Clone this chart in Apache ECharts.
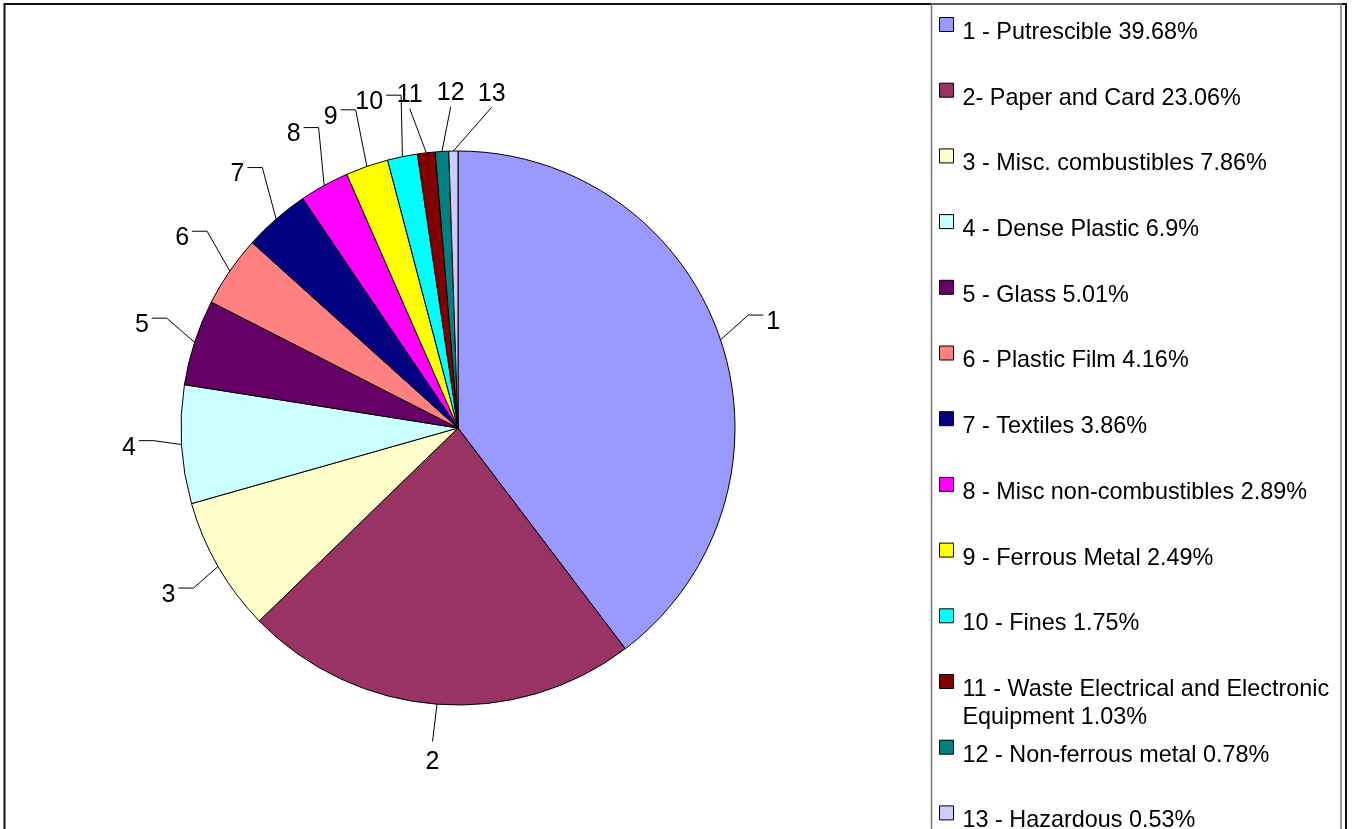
<!DOCTYPE html>
<html><head><meta charset="utf-8">
<script src="https://cdn.jsdelivr.net/npm/echarts@6/dist/echarts.min.js"></script>
<style>html,body{margin:0;padding:0;background:#fff}#c{width:1352px;height:829px}</style>
</head><body><div id="c"></div>
<script>
const categories = ['1 - Putrescible', '2- Paper and Card', '3 - Misc. combustibles', '4 - Dense Plastic', '5 - Glass', '6 - Plastic Film', '7 - Textiles', '8 - Misc non-combustibles', '9 - Ferrous Metal', '10 - Fines', '11 - Waste Electrical and Electronic Equipment', '12 - Non-ferrous metal', '13 - Hazardous'];
const percentages = [39.68, 23.06, 7.86, 6.9, 5.01, 4.16, 3.86, 2.89, 2.49, 1.75, 1.03, 0.78, 0.53];
const sliceLabels = ['1', '2', '3', '4', '5', '6', '7', '8', '9', '10', '11', '12', '13'];
const colors = ['#9999FF', '#993366', '#FFFFCC', '#CCFFFF', '#660066', '#FF8080', '#000080', '#FF00FF', '#FFFF00', '#00FFFF', '#800000', '#008080', '#CCCCFF'];

const FONT = 'Liberation Sans, Arial, sans-serif';
const CX = 458, CY = 428, R = 277, GAP = 45;
const legendNames = categories.map((c, i) => c + ' ' + percentages[i] + '%');

// slice mid-angles (degrees clockwise from 12 o'clock)
const total = percentages.reduce((a, b) => a + b, 0);
let acc = 0;
const mids = percentages.map(v => { const m = (acc + v / 2) / total * 360; acc += v; return m; });

// spread label angles: isotonic regression so neighbours are >= MIN_SEP apart
const MIN_SEP = 7;
function spread(d, sep) {
  const t = d.map((v, i) => v - i * sep);
  const blocks = [];
  t.forEach(v => {
    blocks.push({ sum: v, n: 1 });
    while (blocks.length > 1) {
      const b = blocks[blocks.length - 1], a = blocks[blocks.length - 2];
      if (a.sum / a.n > b.sum / b.n) { a.sum += b.sum; a.n += b.n; blocks.pop(); } else break;
    }
  });
  const out = [];
  blocks.forEach(b => { for (let k = 0; k < b.n; k++) out.push(b.sum / b.n); });
  return out.map((v, i) => v + i * sep);
}
const labAng = spread(mids, MIN_SEP);

// legend layout: one legend per entry so a wrapped entry keeps its slot
const LEG_FS = 23.4, LEG_LH = 28, LEG_W = 380, SLOT = 65.7, FIRST = 24, ICON = 14, TXT_DROP = 8;
const mctx = document.createElement('canvas').getContext('2d');
mctx.font = LEG_FS + 'px "Liberation Sans"';
function countLines(t) {
  const words = t.split(' ');
  let lines = 1, cur = '';
  words.forEach(w => {
    const test = cur ? cur + ' ' + w : w;
    if (mctx.measureText(test).width > LEG_W && cur) { lines++; cur = w; } else cur = test;
  });
  return lines;
}
const legends = legendNames.map((n, i) => {
  const lines = countLines(n);
  // text block is centred at H/2; make first text line sit TXT_DROP below icon centre
  const H = ICON + 2 * TXT_DROP + (lines - 1) * LEG_LH;
  const firstLineCenter = ICON / 2 + TXT_DROP;
  const topLocal = Math.min(0, firstLineCenter - LEG_LH / 2);
  const c = FIRST + i * SLOT;
  return {
    show: true,
    orient: 'vertical',
    left: 939,
    top: c - ICON / 2 + topLocal,
    padding: 0,
    itemWidth: ICON,
    itemHeight: H,
    itemGap: 0,
    selectedMode: false,
    data: [{
      name: n,
      icon: 'path://M0,0L' + ICON + ',0L' + ICON + ',' + ICON + 'L0,' + ICON + 'Z M0,' + H,
      itemStyle: { color: colors[i], borderColor: '#000', borderWidth: 1 }
    }],
    textStyle: {
      fontSize: LEG_FS, lineHeight: LEG_LH, color: '#000', fontFamily: FONT,
      width: LEG_W, overflow: 'break', padding: [0, 0, 0, 4]
    }
  };
});

const chart = echarts.init(document.getElementById('c'), null, { renderer: 'canvas' });
chart.setOption({
  backgroundColor: '#fff',
  animation: false,
  legend: legends,
  graphic: [
    { type: 'rect', silent: true, shape: { x: 4.5, y: 4, width: 1341.5, height: 860 }, style: { fill: 'none', stroke: '#111', lineWidth: 2 } },
    { type: 'rect', silent: true, shape: { x: 931.5, y: 4, width: 409.5, height: 860 }, style: { fill: 'none', stroke: '#777', lineWidth: 1.5 } }
  ],
  series: [{
    type: 'pie',
    center: [CX, CY],
    radius: R,
    startAngle: 90,
    clockwise: true,
    avoidLabelOverlap: false,
    emphasis: { disabled: true },
    itemStyle: { borderColor: '#000', borderWidth: 1 },
    label: {
      show: true, position: 'outside', color: '#000', fontSize: 25, fontFamily: FONT,
      formatter: p => sliceLabels[p.dataIndex]
    },
    labelLine: { show: true, lineStyle: { color: '#000', width: 1 } },
    labelLayout: function (p) {
      const i = p.dataIndex;
      const a = labAng[i] * Math.PI / 180, m = mids[i] * Math.PI / 180;
      const s = Math.sin(a), c = Math.cos(a);
      const w = p.labelRect.width, h = p.labelRect.height;
      const dist = R + GAP + (w / 2) * Math.abs(s) + (h / 2) * Math.abs(c);
      const lx = CX + dist * s, ly = CY - dist * c;
      const p0 = [CX + R * Math.sin(m), CY - R * Math.cos(m)];
      let p1, p2;
      if (Math.abs(s) < 0.2) {
        p2 = [lx, c > 0 ? ly + h / 2 + 1 : ly - h / 2 - 8];
        p1 = [(p0[0] + p2[0]) / 2, (p0[1] + p2[1]) / 2];
      } else {
        const sg = s > 0 ? 1 : -1;
        p2 = [lx - sg * (w / 2 + 3), ly - 7];
        p1 = [p2[0] - sg * 15, p2[1]];
      }
      return { x: lx, y: ly, align: 'center', verticalAlign: 'middle', labelLinePoints: [p0, p1, p2] };
    },
    data: legendNames.map((n, i) => ({ name: n, value: percentages[i], itemStyle: { color: colors[i] } }))
  }]
});
</script>
</body></html>
